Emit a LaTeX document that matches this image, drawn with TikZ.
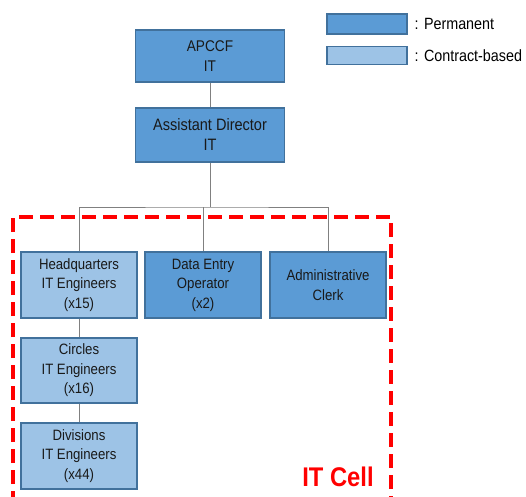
\documentclass[tikz,border=0pt]{standalone}
\usepackage{fontspec}
\setmainfont{Liberation Sans}[FakeStretch=0.88]
\definecolor{perm}{HTML}{5B9BD5}
\definecolor{contract}{HTML}{9DC3E6}
\definecolor{boxline}{HTML}{41719C}
\definecolor{wire}{HTML}{808080}
\definecolor{cellred}{HTML}{FF0000}
\tikzset{
  unit/.style={draw=boxline, line width=1.1pt, align=center, inner sep=0pt,
    text=black!90, font=\fontsize{15}{19.5}\selectfont},
  permbox/.style={unit, fill=perm},
  contbox/.style={unit, fill=contract},
  link/.style={draw=wire, line width=1pt},
  legtext/.style={anchor=west, inner sep=0pt, font=\fontsize{16.3}{19}\selectfont}
}
\begin{document}
\begin{tikzpicture}[x=1pt, y=-1pt]
\useasboundingbox (0,0) rectangle (526,496);

% top of the hierarchy
\node[permbox, minimum width=149pt, minimum height=52pt, font=\fontsize{15.5}{20}\selectfont] (apccf) at (210,56) {APCCF\\IT};
\node[permbox, minimum width=149pt, minimum height=54pt, font=\fontsize{16.5}{20}\selectfont] (ad) at (210,135) {Assistant Director\\IT};

% IT cell units
\node[contbox, minimum width=116pt, minimum height=66pt] (hq) at (79,285) {Headquarters\\IT Engineers\\(x15)};
\node[permbox, minimum width=116pt, minimum height=66pt] (deo) at (203,285) {Data Entry\\Operator\\(x2)};
\node[permbox, minimum width=116pt, minimum height=66pt] (clerk) at (328,285) {Administrative\\Clerk};
\node[contbox, minimum width=116pt, minimum height=65pt] (circ) at (79,370.5) {Circles\\IT Engineers\\(x16)};
\node[contbox, minimum width=116pt, minimum height=66pt] (div) at (79,456) {Divisions\\IT Engineers\\(x44)};

% connectors
\coordinate (bus) at (210,207);
\draw[link] (apccf) -- (ad);
\draw[link] (ad) -- (bus);
\draw[link] (hq.north) |- (bus) -| (clerk.north);
\draw[link] (deo.north) -- (deo.north |- bus);
\draw[link] (hq) -- (circ);
\draw[link] (circ) -- (div);

% dashed frame around the IT cell
\coordinate (fl) at (13,505);
\coordinate (fr) at (391,505);
\draw[cellred, line width=3.5pt, dash pattern=on 14pt off 7pt]
  (fl) -- (13,217) -- (391,217) -- (fr);
\node[text=cellred, font=\fontsize{27}{30}\bfseries\selectfont, inner sep=0pt] (cell) at (338,477) {IT Cell};

% legend
\node[permbox, minimum width=80pt, minimum height=20pt] (lp) at (367,24) {};
\node[contbox, minimum width=80pt, minimum height=18pt] (lc) at (367,55.5) {};
\node[legtext] (lpt) at (414.5,24) {: Permanent};
\node[legtext] (lct) at (414.5,55.5) {: Contract-based};
\end{tikzpicture}
\end{document}
